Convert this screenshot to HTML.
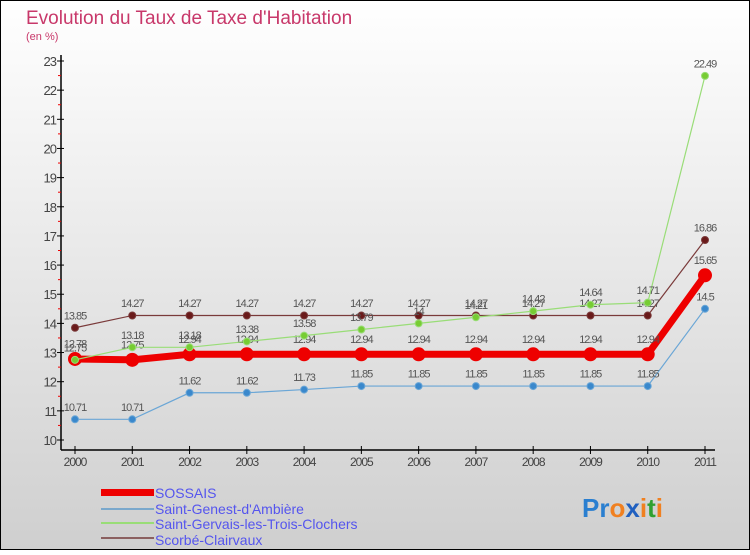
<!DOCTYPE html>
<html><head><meta charset="utf-8"><style>
body{margin:0}
#wrap{width:750px;height:550px;position:relative;font-family:"Liberation Sans",sans-serif}
</style></head><body>
<div id="wrap">
<svg id="svg" width="750" height="550" xmlns="http://www.w3.org/2000/svg">
<defs><linearGradient id="bg" x1="0" y1="0" x2="0" y2="1"><stop offset="0" stop-color="#ffffff"/><stop offset="1" stop-color="#cfcfcf"/></linearGradient></defs>
<rect x="0.5" y="0.5" width="749" height="549" fill="url(#bg)" stroke="#000"/>
<text x="26" y="24" font-size="19" fill="#c8386a">Evolution du Taux de Taxe d'Habitation</text>
<text x="26" y="40" font-size="11" fill="#c8386a">(en %)</text>
<g id="axes"></g><g id="series"></g>
<g>
<rect x="101" y="489" width="53" height="7" fill="#ee0000"/>
<text x="155" y="498" font-size="14" fill="#5555ee">SOSSAIS</text>
<rect x="101" y="508" width="53" height="2" fill="#7aa8cc"/>
<text x="155" y="514" font-size="14" fill="#5555ee">Saint-Genest-d'Ambière</text>
<rect x="101" y="522" width="53" height="2" fill="#99dd77"/>
<text x="155" y="529" font-size="14" fill="#5555ee">Saint-Gervais-les-Trois-Clochers</text>
<rect x="101" y="537" width="53" height="2" fill="#8b6060"/>
<text x="155" y="545" font-size="14" fill="#5555ee">Scorbé-Clairvaux</text>
</g>
<text x="582" y="517" font-size="26" font-weight="bold"><tspan fill="#2a7fd0">Pr</tspan><tspan fill="#f08020">o</tspan><tspan fill="#2060c0">x</tspan><tspan fill="#f08020">i</tspan><tspan fill="#30a030">t</tspan><tspan fill="#f08020">i</tspan></text>
</svg></div>
<script>
const years=[2000,2001,2002,2003,2004,2005,2006,2007,2008,2009,2010,2011];
const yTicks=[10,11,12,13,14,15,16,17,18,19,20,21,22,23];
const sossais=[12.78,12.75,12.94,12.94,12.94,12.94,12.94,12.94,12.94,12.94,12.94,15.65];
const genest=[10.71,10.71,11.62,11.62,11.73,11.85,11.85,11.85,11.85,11.85,11.85,14.5];
const gervais=[12.75,13.18,13.18,13.38,13.58,13.79,14,14.21,14.42,14.64,14.71,22.49];
const scorbe=[13.85,14.27,14.27,14.27,14.27,14.27,14.27,14.27,14.27,14.27,14.27,16.86];
const NS="http://www.w3.org/2000/svg";
const x0=75,x1=705,yMin=10,yMax=23,py0=440,py1=61;
const X=i=>x0+(x1-x0)*i/(years.length-1);
const Y=v=>py0-(v-yMin)*(py0-py1)/(yMax-yMin);
function mk(t,a,p){const e=document.createElementNS(NS,t);for(const k in a)e.setAttribute(k,a[k]);p.appendChild(e);return e;}
const ax=document.getElementById('axes');
let l=mk('line',{x1:61,y1:55,x2:61,y2:450,stroke:'#000','stroke-width':1.5},ax);

l=mk('line',{x1:61,y1:450,x2:715,y2:450,stroke:'#000','stroke-width':1.5},ax);

yTicks.forEach(v=>{const y=Y(v);
 mk('line',{x1:57,y1:y,x2:64,y2:y,stroke:'#000'},ax);
 if(v<yMax)mk('line',{x1:58,y1:Y(v+0.5),x2:61,y2:Y(v+0.5),stroke:'#e00'},ax);
 const t=mk('text',{x:56,y:y+5,'font-size':13,fill:'#444','text-anchor':'end','letter-spacing':'-1'},ax);t.textContent=v;
 });
years.forEach((yr,i)=>{const x=X(i);
 mk('line',{x1:x,y1:446,x2:x,y2:454,stroke:'#000'},ax);
 const t=mk('text',{x:x,y:466,'font-size':12,fill:'#444','text-anchor':'middle','letter-spacing':'-1'},ax);t.textContent=yr;
 });
const sg=document.getElementById('series');
function draw(vals,name,col,fill,w,r){
 const g=mk('g',{},sg);
 mk('polyline',{points:vals.map((v,i)=>X(i)+','+Y(v)).join(' '),fill:'none',stroke:col,'stroke-width':w},g);
 vals.forEach((v,i)=>{const c=mk('circle',{cx:X(i),cy:Y(v),r:r,fill:fill,stroke:col,'stroke-width':1},g);
  
  const t=mk('text',{x:X(i),y:Y(v)-(r+5),'font-size':11,fill:'#555','text-anchor':'middle','letter-spacing':'-1'},g);t.textContent=v;
  });
}
draw(scorbe,'scorbe','#7a3a3a','#6a1a1a',1.2,3.5);
draw(genest,'saint-genest','#6aa6d6','#3a88cc',1.2,3.5);
draw(sossais,'sossais','#ee0000','#ee0000',7,6.5);
draw(gervais,'saint-gervais','#99dd77','#77cc33',1.2,3.5);
</script>
</body></html>
